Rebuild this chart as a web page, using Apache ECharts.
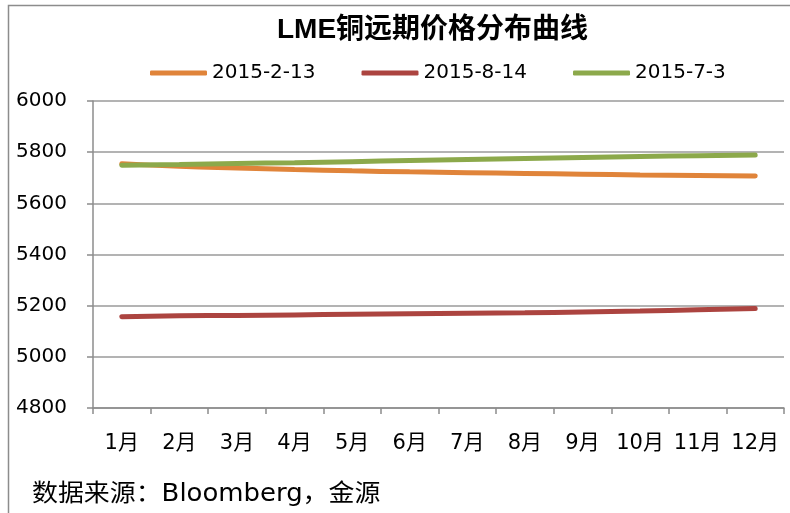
<!DOCTYPE html>
<html><head><meta charset="utf-8">
<script src="https://cdn.jsdelivr.net/npm/echarts@6/dist/echarts.min.js"></script>
<style>html,body{margin:0;padding:0;background:#fff}#c{width:790px;height:513px}</style>
</head><body><div id="c"></div>
<script>
const categories = ['1月','2月','3月','4月','5月','6月','7月','8月','9月','10月','11月','12月'];
const seriesNames = ['2015-2-13','2015-8-14','2015-7-3'];
const s20150213 = [5755,5745,5738,5732,5727,5723,5720,5717,5714,5711,5709,5707];
const s20150814 = [5157,5161,5162,5164,5166,5168,5170,5172,5175,5179,5184,5189];
const s20150703 = [5749,5752,5756,5759,5763,5767,5771,5775,5779,5783,5786,5789];
const colors = ['#E0843A','#AC4440','#8CA94B'];
const yTicks = {min:4800, max:6000, interval:200};

const FONT = '"DejaVu Sans","Noto Sans CJK SC",sans-serif';
const chart = echarts.init(document.getElementById('c'));
const data = [s20150213, s20150814, s20150703];
chart.setOption({
  animation:false,
  color: colors,
  graphic:[
    {type:'polyline',shape:{points:[[8.5,513],[8.5,5.5],[790,5.5]]},style:{stroke:'#8c8c8c',lineWidth:1.5,fill:null}},
    {type:'text',x:32,y:483,scaleX:1.08,style:{text:'数据来源：Bloomberg，金源',font:'24px '+FONT,fill:'#000'}}
  ],
  title:{text:'LME铜远期价格分布曲线',left:272,top:11,
    textStyle:{fontFamily:'"Liberation Sans","Noto Sans CJK SC",sans-serif',fontWeight:'bold',fontSize:28,color:'#000'}},
  legend:{top:58,left:145,itemWidth:57,itemHeight:5,itemGap:46,icon:'roundRect',
    textStyle:{fontFamily:FONT,fontSize:20,color:'#000'},
    data:seriesNames},
  grid:{left:93,right:6,top:101,bottom:105,containLabel:false},
  xAxis:{type:'category',data:categories,boundaryGap:true,
    axisLine:{lineStyle:{color:'#8c8c8c',width:1.5}},
    axisTick:{show:true,length:6,lineStyle:{color:'#8c8c8c',width:1.5}},
    axisLabel:{color:'#000',fontFamily:FONT,fontSize:21,margin:25,interval:0}},
  yAxis:{type:'value',min:yTicks.min,max:yTicks.max,interval:yTicks.interval,
    axisLine:{show:true,lineStyle:{color:'#8c8c8c',width:1.5}},
    axisTick:{show:true,length:6,lineStyle:{color:'#8c8c8c',width:1.5}},
    axisLabel:{color:'#000',fontFamily:FONT,fontSize:20,margin:26,formatter:v=>String(v)},
    splitLine:{lineStyle:{color:'#9a9a9a',width:1.5}}},
  series: seriesNames.map((n,i)=>({name:n,type:'line',data:data[i],smooth:true,symbol:'none',
    lineStyle:{width:5,cap:'round',color:colors[i]}, z: i===2?3:(i===0?2:1)})),
});
</script></body></html>
